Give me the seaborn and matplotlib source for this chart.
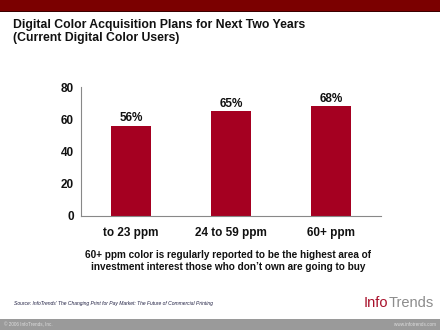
import matplotlib
matplotlib.use("Agg")
import matplotlib.pyplot as plt
import seaborn as sns
import pandas as pd
from matplotlib.patches import Rectangle

categories = ["to 23 ppm", "24 to 59 ppm", "60+ ppm"]
values = [56, 65, 68]
yticks = [0, 20, 40, 60, 80]

sns.set_theme(style="white")
plt.rcParams['font.family'] = ['Liberation Sans', 'DejaVu Sans']

fig = plt.figure(figsize=(4.4, 3.3), dpi=100)
fig.patch.set_facecolor("white")

# top band
fig.patches.append(Rectangle((0, 1 - 11/330), 1, 11/330, transform=fig.transFigure,
                             facecolor="#7B0000", edgecolor="none", zorder=0))
fig.patches.append(Rectangle((0, 1 - 12/330), 1, 1.2/330, transform=fig.transFigure,
                             facecolor="#3A0000", edgecolor="none", zorder=0))
# bottom gray band
fig.patches.append(Rectangle((0, 0), 1, 11/330, transform=fig.transFigure,
                             facecolor="#9A9A9A", edgecolor="none", zorder=0))

fig.text(13/440, 1 - 25/330, "Digital Color Acquisition Plans for Next Two Years",
         fontsize=8.8, fontweight="bold", color="#111111", va="center", ha="left")
fig.text(13/440, 1 - 38/330, "(Current Digital Color Users)",
         fontsize=8.8, fontweight="bold", color="#111111", va="center", ha="left")

ax = fig.add_axes([81/440, (330-216)/330, 300/440, (216-87)/330])
df = pd.DataFrame({"cat": categories, "val": values})
sns.barplot(data=df, x="cat", y="val", color="#A50021", width=0.4, ax=ax,
            saturation=1, edgecolor="none")
ax.set_xlim(-0.5, 2.5)
ax.set_ylim(0, 80)
ax.set_yticks(yticks)
ax.set_yticklabels([str(t) for t in yticks], fontsize=8.5, fontweight="bold", color="#111111")
ax.set_xlabel("")
ax.set_ylabel("")
ax.set_xticks([0.5, 1.5, 2.5])
ax.set_xticklabels([])
ax.tick_params(axis="x", direction="out", length=3, color="#888888", width=0.8)
ax.tick_params(axis="y", direction="out", length=3, color="#888888", width=0.8, pad=2)
for i, c in enumerate(categories):
    ax.text(i, -0.13, c, transform=ax.get_xaxis_transform(), ha="center", va="center",
            fontsize=8.5, fontweight="bold", color="#111111")
for s in ["top", "right"]:
    ax.spines[s].set_visible(False)
for s in ["left", "bottom"]:
    ax.spines[s].set_color("#888888")
    ax.spines[s].set_linewidth(0.8)
for cont in ax.containers:
    ax.bar_label(cont, labels=[f"{v}%" for v in values], fontsize=8.5,
                 fontweight="bold", color="#111111", padding=1)

fig.text(228/440, 1 - 255/330, "60+ ppm color is regularly reported to be the highest area of",
         fontsize=7.2, fontweight="bold", ha="center", va="center", color="#111111")
fig.text(228/440, 1 - 267/330, "investment interest those who don\u2019t own are going to buy",
         fontsize=7.2, fontweight="bold", ha="center", va="center", color="#111111")

fig.text(14/440, 1 - 303/330,
         "Source: InfoTrends\u2019 The Changing Print for Pay Market: The Future of Commercial Printing",
         fontsize=3.6, fontstyle="italic", ha="left", va="center", color="#222244")
fig.text(4/440, 5.5/330, "\u00a9 2006 InfoTrends, Inc.", fontsize=3.3, color="#dddddd",
         ha="left", va="center")
fig.text(436/440, 5.5/330, "www.infotrends.com", fontsize=3.3, color="#dddddd",
         ha="right", va="center")

t1 = fig.text(364/440, 1 - 303/330, "Info", fontsize=10.5, color="#A8102A",
              ha="left", va="center")
fig.canvas.draw()
bb = t1.get_window_extent()
fig.text(bb.x1 / 440 + 0.001, 1 - 303/330, "Trends", fontsize=10.5, color="#8C8C8C",
         ha="left", va="center")

fig.savefig("out.png", dpi=100)
